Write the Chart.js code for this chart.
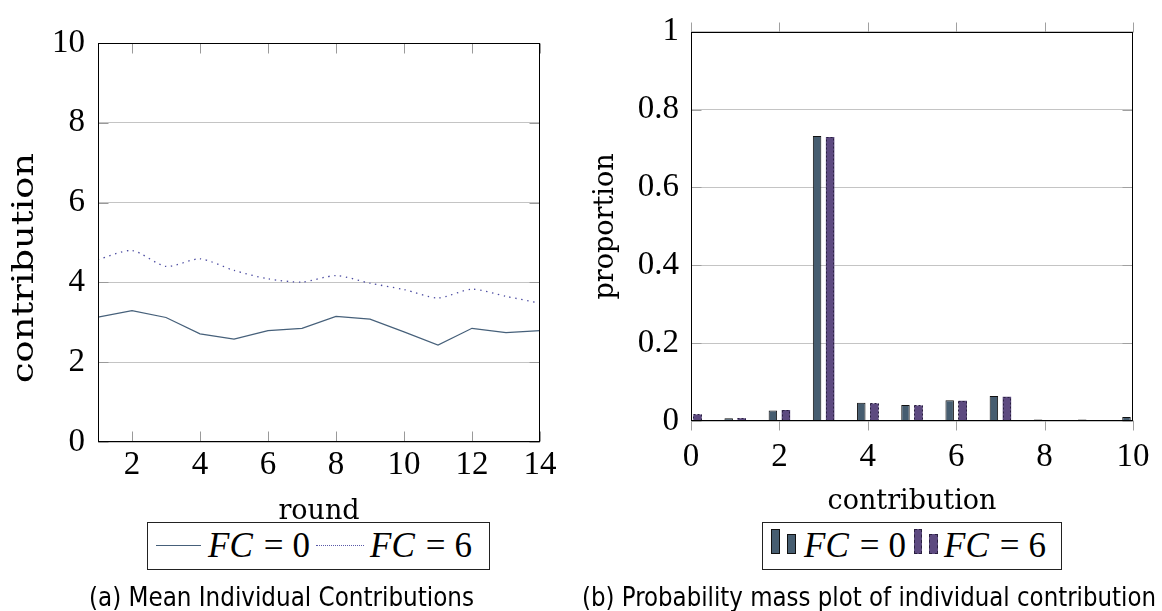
<!DOCTYPE html>
<html><head><meta charset="utf-8">
<script src="https://cdn.jsdelivr.net/npm/chart.js@4.4.1/dist/chart.umd.min.js"></script>
<style>
html,body{margin:0;padding:0;background:#fff;}
body{width:1162px;height:611px;position:relative;overflow:hidden;}
#cL{position:absolute;left:0;top:0;}
#cR{position:absolute;left:581px;top:0;}
.leg{position:absolute;border:1px solid #222;box-sizing:border-box;background:#fff;}
.lt{position:absolute;font-family:"Liberation Serif","DejaVu Serif",serif;font-size:35px;line-height:35px;white-space:nowrap;color:#000;}
.lt i{font-style:italic;}
.lt .eq{margin:0 9px 0 11px;}
.sw{position:absolute;box-sizing:border-box;}
.cap{position:absolute;font-family:"Liberation Sans Narrow","DejaVu Sans Condensed","Liberation Sans",sans-serif;font-size:27px;line-height:27px;white-space:nowrap;color:#000;transform-origin:0 50%;}
</style></head>
<body>
<canvas id="cL" width="581" height="611"></canvas>
<canvas id="cR" width="581" height="611"></canvas>

<div class="leg" style="left:147px;top:522px;width:343px;height:48px;">
  <div class="sw" style="left:8px;top:22px;width:45px;height:0;border-top:1px solid #46607a;"></div>
  <div class="lt" style="left:60px;top:5px;"><i>FC</i><span class="eq">=</span>0</div>
  <div class="sw" style="left:168px;top:22px;width:48px;height:0;border-top:1px dotted #5a5aa8;"></div>
  <div class="lt" style="left:222px;top:5px;"><i>FC</i><span class="eq">=</span>6</div>
</div>

<div class="leg" style="left:762px;top:522px;width:300px;height:48px;">
  <div class="sw" style="left:8px;top:6px;width:9px;height:25px;background:#465d70;border:1px solid #111;"></div>
  <div class="sw" style="left:24px;top:11px;width:9px;height:20px;background:#465d70;border:1px solid #111;"></div>
  <div class="lt" style="left:41px;top:5px;"><i>FC</i><span class="eq">=</span>0</div>
  <div class="sw" style="left:151px;top:6px;width:8px;height:25px;background:#5d4a80;border:1px dashed #2a2040;"></div>
  <div class="sw" style="left:166px;top:11px;width:9px;height:20px;background:#5d4a80;border:1px dashed #2a2040;"></div>
  <div class="lt" style="left:181px;top:5px;"><i>FC</i><span class="eq">=</span>6</div>
</div>

<div class="cap" id="capA" data-w="385" style="left:89px;top:583px;">(a) Mean Individual Contributions</div>
<div class="cap" id="capB" data-w="574" style="left:582px;top:583px;">(b) Probability mass plot of individual contribution</div>

<script>
// ---------- data ----------
const rounds = [1,2,3,4,5,6,7,8,9,10,11,12,13,14];
const meanFC0 = [3.13,3.29,3.12,2.71,2.58,2.79,2.85,3.15,3.08,2.76,2.43,2.85,2.74,2.79];
const meanFC6 = [4.57,4.80,4.40,4.59,4.30,4.09,4.01,4.17,3.98,3.82,3.61,3.83,3.65,3.48];
const leftXTicks = [2,4,6,8,10,12,14];
const leftYTicks = [0,2,4,6,8,10];

const contributions = [0,1,2,3,4,5,6,7,8,9,10];
const pmfFC0 = [0.017,0.007,0.027,0.732,0.047,0.041,0.053,0.064,0.004,0.004,0.010];
const pmfFC6 = [0.017,0.007,0.028,0.730,0.045,0.040,0.052,0.062,0.002,0.002,0.008];
const rightXTicks = [0,2,4,6,8,10];
const rightYTicks = [0,0.2,0.4,0.6,0.8,1];

const seriesNames = ['FC = 0','FC = 6'];

// ---------- plugins ----------
const dashedBars = {
  id:'dashedBars',
  afterDatasetsDraw(chart, args, opts){
    if(!opts || !opts.enabled) return;
    const meta = chart.getDatasetMeta(opts.datasetIndex);
    const {ctx, chartArea:a} = chart;
    ctx.save();
    ctx.beginPath(); ctx.rect(a.left, a.top, a.right-a.left, a.bottom-a.top); ctx.clip();
    ctx.setLineDash([2,2]); ctx.strokeStyle = opts.color; ctx.lineWidth = 1;
    meta.data.forEach(el => {
      const p = el.getProps(['x','y','base','width'], true);
      const l = Math.round(p.x - p.width/2) + 0.5, r = Math.round(p.x + p.width/2) - 0.5;
      const t = Math.round(p.y) + 0.5, b = Math.round(p.base) - 0.5;
      if (b > t) ctx.strokeRect(l, t, r-l, b-t);
    });
    ctx.restore();
  }
};
const frameTicks = {
  id:'frameTicks',
  afterDatasetsDraw(chart, args, opts){
    const {ctx, chartArea:a} = chart;
    const L = Math.round(a.left)+0.5, R = Math.round(a.right)-0.5, T = Math.round(a.top)+0.5, B = Math.round(a.bottom)-0.5;
    ctx.save();
    ctx.lineWidth = 1;
    ctx.strokeStyle = opts.tickColor || '#999';
    (opts.marks||[]).forEach(m => {
      const s = chart.scales[m.axis];
      s.ticks.forEach(t => {
        const p = Math.round(s.getPixelForValue(t.value)) + 0.5;
        ctx.beginPath();
        if (m.side === 'bottom') { const d = m.dir==='in' ? -m.len : m.len; ctx.moveTo(p,B); ctx.lineTo(p,B+d); }
        else if (m.side === 'top') { const d = m.dir==='in' ? m.len : -m.len; ctx.moveTo(p,T); ctx.lineTo(p,T+d); }
        else if (m.side === 'left') { const d = m.dir==='in' ? m.len : -m.len; ctx.moveTo(L,p); ctx.lineTo(L+d,p); }
        else if (m.side === 'right') { const d = m.dir==='in' ? -m.len : m.len; ctx.moveTo(R,p); ctx.lineTo(R+d,p); }
        ctx.stroke();
      });
    });
    ctx.strokeStyle = '#000';
    ctx.strokeRect(L, T, R-L, B-T);
    ctx.restore();
  }
};
// y-axis title drawn stretched along its length (as in the reference)
const stretchedTitle = {
  id:'stretchedTitle',
  afterDraw(chart, args, opts){
    if(!opts || !opts.text) return;
    const ctx = chart.ctx;
    ctx.save();
    ctx.font = opts.size + 'px ' + opts.family;
    ctx.fillStyle = '#000';
    ctx.textAlign = 'center'; ctx.textBaseline = 'middle';
    const w = ctx.measureText(opts.text).width;
    ctx.translate(opts.x, opts.y);
    ctx.rotate(-Math.PI/2);
    ctx.scale(opts.length / w, 1);
    ctx.fillText(opts.text, 0, 0);
    ctx.restore();
  }
};

const tickFont = {family:'"Liberation Serif", serif', size:33};
const titleFont = {family:'"DejaVu Serif", serif', size:27};
const setTicks = arr => (s => { s.ticks = arr.map(v => ({value:v})); });
const fmt = v => String(+(+v).toFixed(1));

// ---------- left chart ----------
new Chart(document.getElementById('cL'), {
  type:'line',
  data:{datasets:[
    {label:seriesNames[0], data:rounds.map((r,i)=>({x:r,y:meanFC0[i]})), borderColor:'#46607a', borderWidth:1.2, pointRadius:0, tension:0, fill:false},
    {label:seriesNames[1], data:rounds.map((r,i)=>({x:r,y:meanFC6[i]})), borderColor:'#4a4aa0', borderWidth:1.3, borderDash:[1.4,4.6], pointRadius:0, tension:0.25, fill:false}
  ]},
  options:{
    responsive:false, animation:false, devicePixelRatio:1,
    layout:{padding:{left:0,top:43,right:41,bottom:82}},
    plugins:{legend:{display:false}, tooltip:{enabled:false},
      stretchedTitle:{text:'contribution', family:'"DejaVu Serif", serif', size:30, x:25, y:268, length:230},
      frameTicks:{tickColor:'#9a9a9a', marks:[
        {axis:'x',side:'bottom',dir:'in',len:10},{axis:'x',side:'top',dir:'in',len:10},
        {axis:'y',side:'left',dir:'in',len:10},{axis:'y',side:'right',dir:'in',len:10}]}},
    scales:{
      x:{type:'linear', min:1, max:14, afterBuildTicks:setTicks(leftXTicks),
         afterFit(s){ s.height = 87; },
         grid:{display:false}, border:{display:false},
         ticks:{font:tickFont, color:'#000', padding:-4, maxRotation:0, autoSkip:false, callback:fmt},
         title:{display:true, text:'round', font:titleFont, color:'#000', padding:{top:4,bottom:1}}},
      y:{type:'linear', min:0, max:10, afterBuildTicks:setTicks(leftYTicks),
         afterFit(s){ s.width = 98; },
         grid:{color:'#c4c4c4', drawTicks:false}, border:{display:false},
         ticks:{font:tickFont, color:'#000', padding:13, callback:fmt},
         title:{display:false}}
    }
  },
  plugins:[frameTicks, stretchedTitle]
});

// ---------- right chart ----------
new Chart(document.getElementById('cR'), {
  type:'bar',
  data:{datasets:[
    {label:seriesNames[0], data:contributions.map((c,i)=>({x:c,y:pmfFC0[i]})), backgroundColor:'#465d70', borderColor:'#111', borderWidth:1, categoryPercentage:0.59, barPercentage:0.65},
    {label:seriesNames[1], data:contributions.map((c,i)=>({x:c,y:pmfFC6[i]})), backgroundColor:'#5d4a80', borderWidth:0, categoryPercentage:0.59, barPercentage:0.65}
  ]},
  options:{
    responsive:false, animation:false, devicePixelRatio:1,
    layout:{padding:{left:0,top:22,right:29,bottom:92}},
    plugins:{legend:{display:false}, tooltip:{enabled:false},
      dashedBars:{enabled:true, datasetIndex:1, color:'#2a2040'},
      frameTicks:{tickColor:'#a0a0a0', marks:[
        {axis:'x',side:'bottom',dir:'out',len:10},{axis:'x',side:'top',dir:'out',len:10},
        {axis:'y',side:'left',dir:'in',len:10},{axis:'y',side:'right',dir:'in',len:10}]}},
    scales:{
      x:{type:'linear', min:0, max:10, offset:false, afterBuildTicks:setTicks(rightXTicks),
         afterFit(s){ s.height = 98; },
         grid:{display:false, offset:false}, border:{display:false},
         ticks:{font:tickFont, color:'#000', padding:9, maxRotation:0, autoSkip:false, callback:fmt},
         title:{display:true, text:'contribution', font:titleFont, color:'#000', padding:{top:4,bottom:1}}},
      y:{type:'linear', min:0, max:1, afterBuildTicks:setTicks(rightYTicks),
         afterFit(s){ s.width = 110; },
         grid:{color:'#c4c4c4', drawTicks:false}, border:{display:false},
         ticks:{font:tickFont, color:'#000', padding:12, callback:fmt},
         title:{display:true, text:'proportion', font:titleFont, color:'#000', padding:{top:9,bottom:4}}}
    }
  },
  plugins:[dashedBars, frameTicks]
});

// fit captions to measured widths
['capA','capB'].forEach(id => {
  const el = document.getElementById(id);
  const w = el.getBoundingClientRect().width;
  const target = +el.dataset.w;
  if (w > 0) el.style.transform = 'scaleX(' + (target / w) + ')';
});
</script>
</body></html>
